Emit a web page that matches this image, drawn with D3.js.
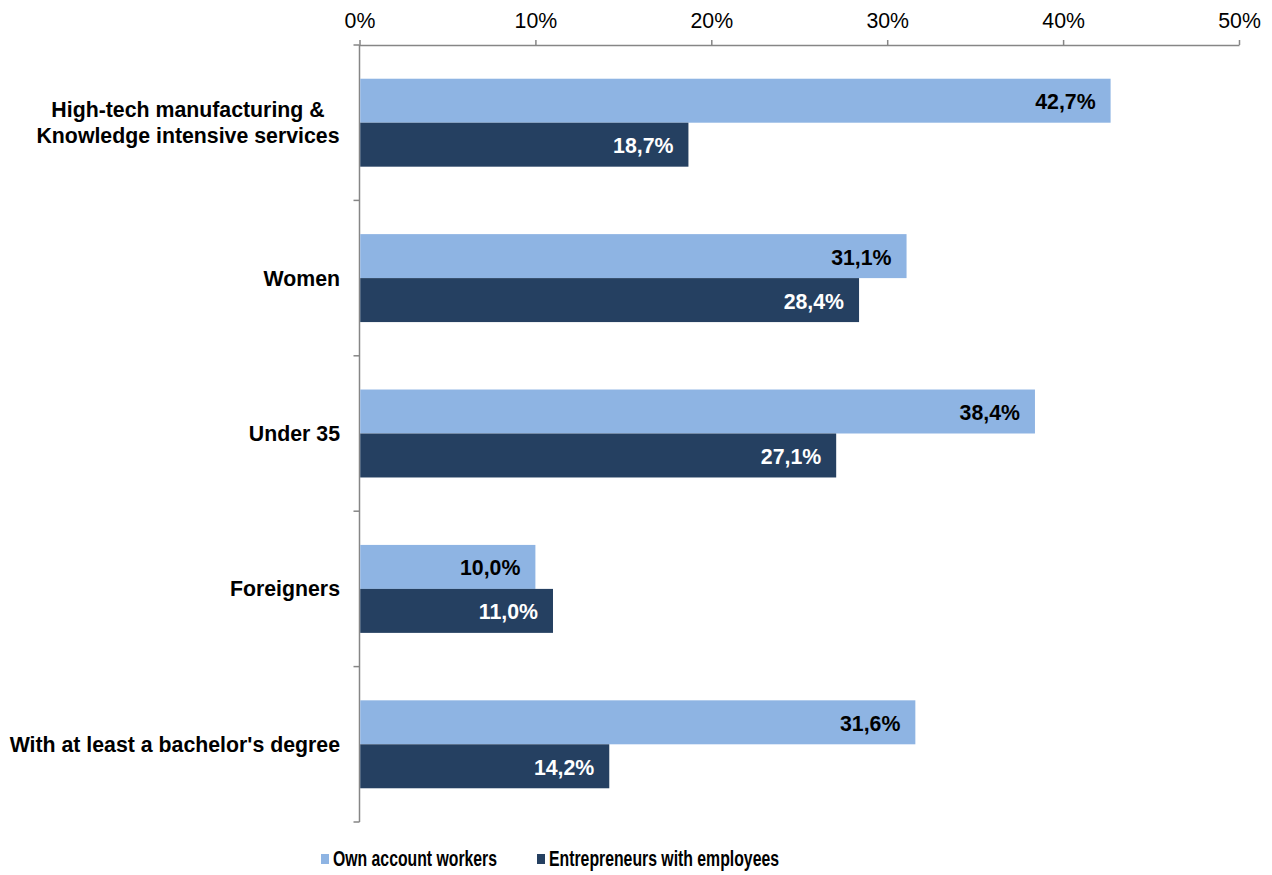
<!DOCTYPE html>
<html>
<head>
<meta charset="utf-8">
<script src="https://cdn.jsdelivr.net/npm/d3@7"></script>
<style>
  body { margin: 0; background: #fff; }
  svg { font-family: "Liberation Sans", Arial, sans-serif; }
</style>
</head>
<body>
<div id="chart"></div>
<script>
const categories = [
    ['High-tech manufacturing &', 'Knowledge intensive services'],
    ['Women'],
    ['Under 35'],
    ['Foreigners'],
    ["With at least a bachelor's degree"]
];
const seriesNames = ['Own account workers', 'Entrepreneurs with employees'];
const ownAccount = [42.7, 31.1, 38.4, 10.0, 31.6];
const withEmployees = [18.7, 28.4, 27.1, 11.0, 14.2];
const xTicks = [0, 10, 20, 30, 40, 50];

const colors = ['#8EB4E3', '#254061'];
const labelColors = ['#000', '#fff'];

const width = 1272;
const height = 875;
const margin = {top: 45, right: 33, bottom: 53, left: 359.5};
const fontSize = '21.3px';

const svg = d3.select('#chart')
  .append('svg')
    .attr('width', width)
    .attr('height', height);

const idx = d3.range(categories.length);
const values = [ownAccount, withEmployees];

const x = d3.scaleLinear()
    .domain([0, 50])
    .range([margin.left, width - margin.right]);

const y0 = d3.scaleBand()
    .domain(idx)
    .range([margin.top, height - margin.bottom])
    .paddingInner(0.434)
    .paddingOuter(0.217);

const y1 = d3.scaleBand()
    .domain([0, 1])
    .range([0, y0.bandwidth()]);

// top axis
const xAxis = d3.axisTop(x)
    .tickValues(xTicks)
    .tickFormat(d => d + '%')
    .tickSizeInner(5)
    .tickSizeOuter(0)
    .tickPadding(12);

const gx = svg.append('g')
    .attr('transform', `translate(0,${margin.top})`)
    .call(xAxis);
gx.select('.domain').attr('stroke', '#868686').attr('stroke-width', 1.5);
gx.selectAll('.tick line').attr('stroke', '#868686').attr('stroke-width', 1.5);
gx.selectAll('.tick text')
    .attr('fill', '#000')
    .style('font-size', fontSize);

// left axis line with separator ticks
const step = y0.step();
const yTop = y0.range()[0];
const seps = d3.range(categories.length + 1).map(i => yTop + i * step);

svg.append('line')
    .attr('x1', x(0)).attr('x2', x(0))
    .attr('y1', margin.top).attr('y2', seps[seps.length - 1])
    .attr('stroke', '#868686').attr('stroke-width', 1.5);

svg.selectAll('.sep')
  .data(seps)
  .enter()
  .append('line')
    .attr('x1', x(0) - 6).attr('x2', x(0))
    .attr('y1', d => d).attr('y2', d => d)
    .attr('stroke', '#868686').attr('stroke-width', 1.5);

// bars
const groups = svg.selectAll('.group')
  .data(idx)
  .enter()
  .append('g')
    .attr('transform', i => `translate(0,${y0(i)})`);

groups.selectAll('rect')
  .data(i => values.map((v, s) => ({s, v: v[i]})))
  .enter()
  .append('rect')
    .attr('x', x(0) + 0.75)
    .attr('y', d => y1(d.s))
    .attr('width', d => x(d.v) - x(0) - 0.75)
    .attr('height', y1.bandwidth())
    .attr('fill', d => colors[d.s]);

groups.selectAll('.val')
  .data(i => values.map((v, s) => ({s, v: v[i]})))
  .enter()
  .append('text')
    .attr('x', d => x(d.v) - 15)
    .attr('y', d => y1(d.s) + y1.bandwidth() / 2 + 1)
    .attr('dy', '0.35em')
    .attr('text-anchor', 'end')
    .attr('fill', d => labelColors[d.s])
    .style('font-size', fontSize)
    .style('font-weight', 'bold')
    .text(d => d.v.toFixed(1).replace('.', ',') + '%');

// category labels
const lineH = 26;
svg.selectAll('.cat')
  .data(idx)
  .enter()
  .append('text')
    .style('font-size', fontSize)
    .style('font-weight', 'bold')
    .attr('fill', '#000')
    .each(function(i) {
        const lines = categories[i];
        const cy = y0(i) + y0.bandwidth() / 2;
        const t = d3.select(this);
        const isMulti = lines.length > 1;
        t.attr('text-anchor', isMulti ? 'middle' : 'end');
        lines.forEach((ln, k) => {
            t.append('tspan')
                .attr('x', isMulti ? 188 : 340)
                .attr('y', cy + (k - (lines.length - 1) / 2) * lineH)
                .attr('dy', '0.35em')
                .text(ln);
        });
    });

// legend
const legendX = [321, 537];
const legendW = [164, 230];
const legend = svg.selectAll('.legend')
  .data(seriesNames)
  .enter()
  .append('g')
    .attr('transform', (d, i) => `translate(${legendX[i]},854)`);

legend.append('rect')
    .attr('width', 8)
    .attr('height', 10)
    .attr('fill', (d, i) => colors[i]);

legend.append('text')
    .attr('x', 12)
    .attr('y', 5)
    .attr('dy', '0.35em')
    .attr('textLength', (d, i) => legendW[i])
    .attr('lengthAdjust', 'spacingAndGlyphs')
    .style('font-size', fontSize)
    .style('font-weight', 'bold')
    .attr('fill', '#000')
    .text(d => d);
</script>
</body>
</html>
